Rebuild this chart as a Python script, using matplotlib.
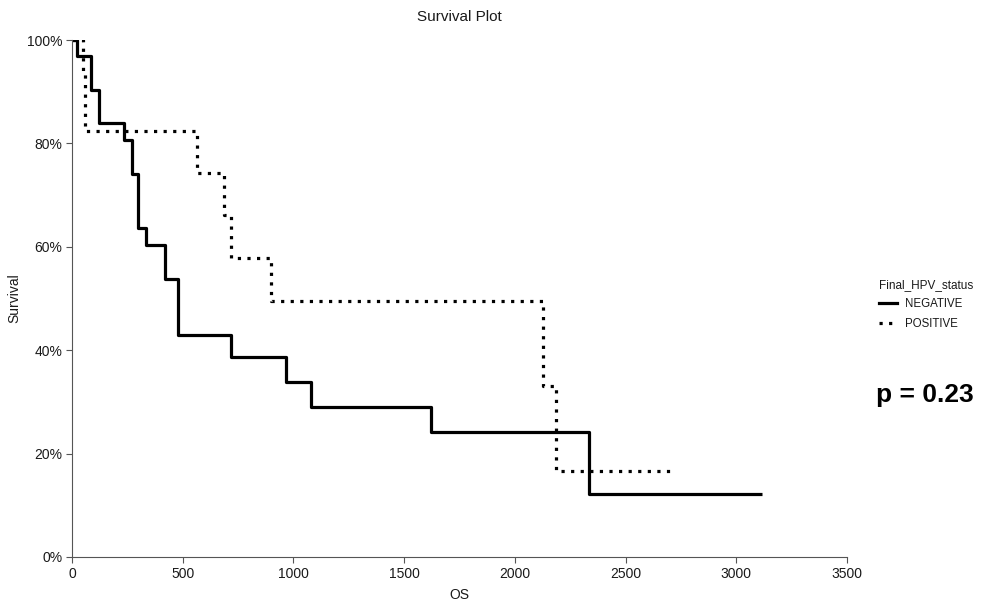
import matplotlib
matplotlib.use("Agg")
import matplotlib.pyplot as plt
from matplotlib.ticker import PercentFormatter
from matplotlib.lines import Line2D

plt.rcParams['font.family'] = ['Liberation Sans', 'DejaVu Sans']

# Kaplan-Meier step data
neg_time = [0, 23, 85, 120, 236, 270, 300, 335, 420, 480, 720, 965, 1080, 1620, 2337, 3118]
neg_surv = [1.0, 0.970, 0.903, 0.839, 0.806, 0.740, 0.637, 0.604, 0.537, 0.430, 0.386, 0.338, 0.290, 0.242, 0.121, 0.121]

pos_time = [0, 50, 58, 566, 688, 717, 899, 2126, 2186, 2724]
pos_surv = [1.0, 0.941, 0.824, 0.742, 0.662, 0.578, 0.495, 0.331, 0.166, 0.166]

group_names = ["NEGATIVE", "POSITIVE"]
legend_title = "Final_HPV_status"
p_text = "p = 0.23"
x_ticks = [0, 500, 1000, 1500, 2000, 2500, 3000, 3500]
y_ticks = [0, 0.2, 0.4, 0.6, 0.8, 1.0]

fig = plt.figure(figsize=(10.05, 6.01), dpi=100)
ax = fig.add_axes([72/1005, 1-557/601, 775/1005, 517/601])

ax.step(neg_time, neg_surv, where='post', color='black', lw=2.3, solid_capstyle='butt')
ax.step(pos_time, pos_surv, where='post', color='black', lw=2.3, linestyle=(0, (1, 2)))

ax.set_xlim(0, 3500)
ax.set_ylim(0, 1.0)
ax.set_xticks(x_ticks)
ax.set_yticks(y_ticks)
ax.yaxis.set_major_formatter(PercentFormatter(1.0, decimals=0))
for s in ['top', 'right']:
    ax.spines[s].set_visible(False)
for s in ['left', 'bottom']:
    ax.spines[s].set_color('#555555')
    ax.spines[s].set_linewidth(0.8)
ax.tick_params(axis='both', direction='out', length=4, width=0.8, color='#555555',
               labelsize=10, labelcolor='#1a1a1a', pad=3)
ax.set_xlabel("OS", fontsize=10, color='#1a1a1a', labelpad=5)
ax.set_ylabel("Survival", fontsize=10, color='#1a1a1a', labelpad=4)
ax.set_title("Survival Plot", fontsize=11, color='#1a1a1a', pad=14)

handles = [Line2D([0], [0], color='black', lw=2.3),
           Line2D([0], [0], color='black', lw=2.3, linestyle=(0, (1, 2)))]
leg = fig.legend(handles, group_names, title=legend_title, loc='upper left',
                 bbox_to_anchor=(874/1005, 1-274/601), frameon=False,
                 fontsize=8.3, title_fontsize=8.5, handlelength=1.6,
                 handletextpad=0.7, labelspacing=0.65, borderaxespad=0)
leg._legend_box.align = "left"
for t in leg.get_texts():
    t.set_color('#1a1a1a')
leg.get_title().set_color('#1a1a1a')

fig.text(925/1005, 1-395/601, p_text, fontsize=19, fontweight='bold',
         ha='center', va='center', color='black')

fig.savefig("out.png", dpi=100)
